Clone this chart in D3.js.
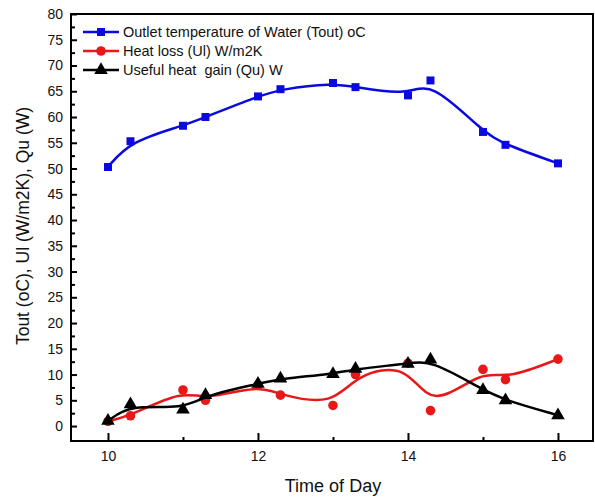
<!DOCTYPE html>
<html>
<head>
<meta charset="utf-8">
<script src="https://cdn.jsdelivr.net/npm/d3@7"></script>
<style>
  html, body { margin: 0; padding: 0; background: #fff; }
  svg { display: block; font-family: "Liberation Sans", Arial, sans-serif; }
</style>
</head>
<body>
<svg id="chart" width="595" height="498"></svg>
<script>
// Time of day (10.3 = half past ten, as logged)
const times = [10, 10.3, 11, 11.3, 12, 12.3, 13, 13.3, 14, 14.3, 15, 15.3, 16];
// Outlet temperature of water, oC
const tout = [50.3, 55.3, 58.3, 60.0, 64.0, 65.4, 66.6, 65.8, 64.2, 67.1, 57.1, 54.6, 51.0];
// Heat loss coefficient, W/m2K
const heatLoss = [0.9, 2.0, 7.0, 5.0, 8.0, 6.0, 4.0, 10.0, 12.2, 3.0, 11.0, 9.0, 13.0];
// Useful heat gain, W
const usefulGain = [1.0, 4.2, 3.2, 6.0, 8.2, 9.2, 10.1, 11.1, 12.1, 12.9, 7.0, 5.0, 2.1];

const xMajorTicks = [10, 12, 14, 16];
const xMinorTicks = [11, 13, 15];
const yMajorTicks = d3.range(0, 81, 5);
const yMinorTicks = d3.range(2.5, 80, 5);

const seriesNames = [
  "Outlet temperature of Water (Tout) oC",
  "Heat loss (Ul) W/m2K",
  "Useful heat  gain (Qu) W"
];
const seriesColors = ["#0a0ae0", "#e81818", "#000000"];
const seriesShapes = [d3.symbolSquare, d3.symbolCircle, d3.symbolTriangle];
const seriesSizes = [64, 72, 80];
const seriesData = [tout, heatLoss, usefulGain];

const svg = d3.select("#chart");
const plotLeft = 71, plotRight = 593, plotTop = 14, plotBottom = 441;

const x = d3.scaleLinear().domain([9.507, 16.467]).range([plotLeft, plotRight]);
const y = d3.scaleLinear().domain([-2.9, 80]).range([plotBottom, plotTop]);

// Axes with inward ticks
svg.append("g").attr("transform", `translate(0,${plotBottom})`)
  .call(d3.axisBottom(x).tickValues(xMajorTicks).tickSize(-8).tickSizeOuter(0).tickPadding(10).tickFormat(d3.format("d")));
svg.append("g").attr("transform", `translate(0,${plotBottom})`)
  .call(d3.axisBottom(x).tickValues(xMinorTicks).tickSize(-4).tickSizeOuter(0).tickFormat(""));
svg.append("g").attr("transform", `translate(${plotLeft},0)`)
  .call(d3.axisLeft(y).tickValues(yMajorTicks).tickSize(-6).tickSizeOuter(0).tickPadding(8).tickFormat(d3.format("d")));
svg.append("g").attr("transform", `translate(${plotLeft},0)`)
  .call(d3.axisLeft(y).tickValues(yMinorTicks).tickSize(-4).tickSizeOuter(0).tickFormat(""));

svg.selectAll(".domain").remove();
svg.selectAll(".tick line").attr("stroke", "#000").attr("stroke-width", 2);
svg.selectAll(".tick text").attr("fill", "#111").style("font-size", "14px");

// Plot frame
svg.append("rect")
  .attr("x", plotLeft).attr("y", plotTop)
  .attr("width", plotRight - plotLeft).attr("height", plotBottom - plotTop)
  .attr("fill", "none").attr("stroke", "#000").attr("stroke-width", 2);

// Axis titles
svg.append("text")
  .attr("x", (x(10) + x(16)) / 2).attr("y", 492)
  .attr("text-anchor", "middle").style("font-size", "18px").attr("fill", "#111")
  .text("Time of Day");
svg.append("text")
  .attr("transform", `translate(29,226) rotate(-90)`)
  .attr("text-anchor", "middle").style("font-size", "17.5px").attr("fill", "#111")
  .text("Tout (oC), Ul (W/m2K), Qu (W)");

// Smoothed series (B-spline) with markers
const line = d3.line().x((d, i) => x(times[i])).y(d => y(d)).curve(d3.curveBasis);

seriesData.forEach((vals, s) => {
  svg.append("path").datum(vals)
    .attr("d", line)
    .attr("fill", "none")
    .attr("stroke", seriesColors[s])
    .attr("stroke-width", 2.5);
  svg.append("g").selectAll("path").data(vals).join("path")
    .attr("transform", (d, i) => `translate(${x(times[i])},${y(d)})`)
    .attr("d", d3.symbol().type(seriesShapes[s]).size(seriesSizes[s]))
    .attr("fill", seriesColors[s]);
});

// Legend
const legend = svg.append("g");
seriesNames.forEach((name, s) => {
  const ly = 32 + s * 19;
  legend.append("line")
    .attr("x1", 83).attr("x2", 119).attr("y1", ly).attr("y2", ly)
    .attr("stroke", seriesColors[s]).attr("stroke-width", 2.5);
  legend.append("path")
    .attr("transform", `translate(101,${ly})`)
    .attr("d", d3.symbol().type(seriesShapes[s]).size(seriesSizes[s]))
    .attr("fill", seriesColors[s]);
  legend.append("text")
    .attr("x", 123).attr("y", ly + 5)
    .style("font-size", "14.5px").style("white-space", "pre").attr("fill", "#111")
    .text(name);
});
</script>
</body>
</html>
